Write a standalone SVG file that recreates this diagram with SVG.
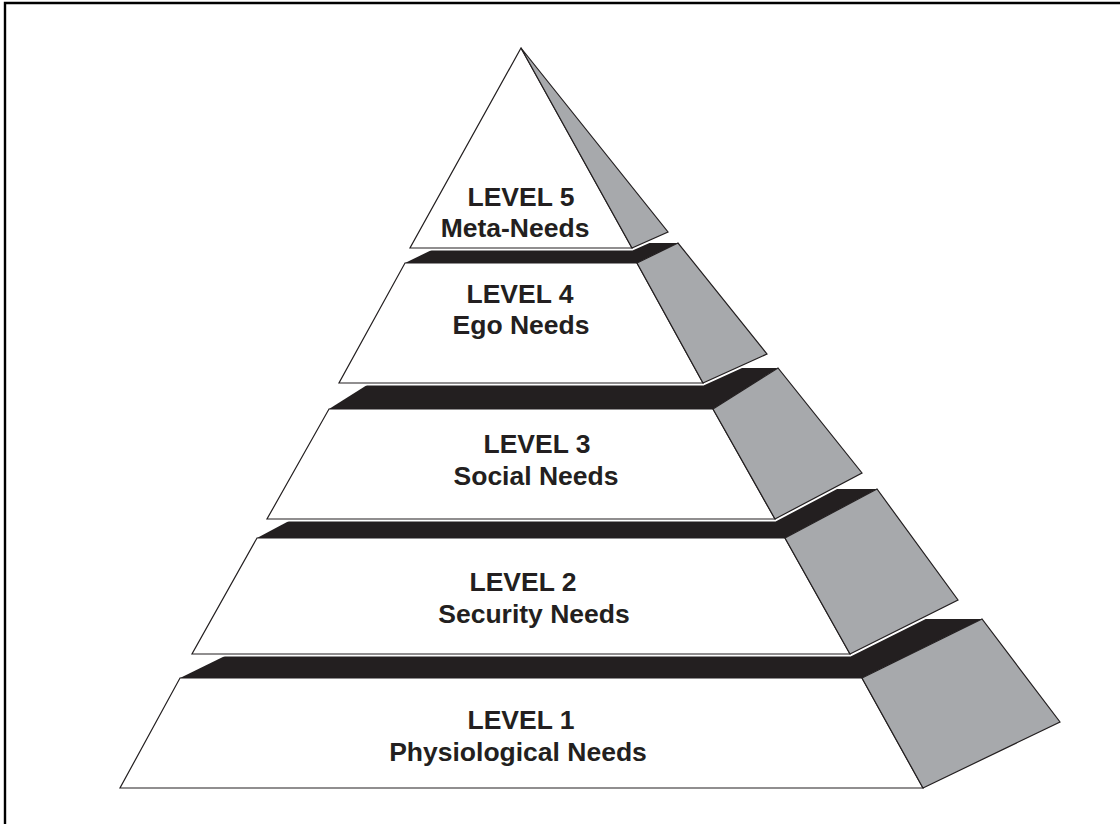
<svg xmlns="http://www.w3.org/2000/svg" width="1120" height="824" viewBox="0 0 1120 824">
  <style>
    .frame { fill: none; stroke: #000; stroke-width: 2.4; }
    .gap { fill: #fff; stroke: #fff; stroke-width: 5; stroke-linejoin: miter; }
    .top { fill: #231f20; stroke: none; }
    .front { fill: #fff; stroke: #231f20; stroke-width: 1.2; stroke-linejoin: miter; }
    .side { fill: #a7a9ac; stroke: #231f20; stroke-width: 1.2; stroke-linejoin: miter; }
    .label { font-family: "Liberation Sans", Arial, sans-serif; font-weight: bold; font-size: 26.5px; fill: #231f20; text-anchor: middle; }
  </style>

  <!-- outer frame (top and left edges) -->
  <path class="frame" d="M5,824 V3 H1120"/>

  <!-- base block -->
  <g id="level-1">
    <polygon class="gap" points="180,678 862,678 982,619 1060,722 923,788 120,788"/>
    <polygon class="top" points="180,678 862,678 982,619 300,619"/>
    <polygon class="front" points="180,678 862,678 923,788 120,788"/>
    <polygon class="side" points="862,678 982,619 1060,722 923,788"/>
    <text class="label" x="521" y="729">LEVEL 1</text>
    <text class="label" x="518" y="761">Physiological Needs</text>
  </g>

  <g id="level-2">
    <polygon class="gap" points="257,538 785,538 877,489 958,600 850,654 192,654"/>
    <polygon class="top" points="257,538 785,538 877,489 349,489"/>
    <polygon class="front" points="257,538 785,538 850,654 192,654"/>
    <polygon class="side" points="785,538 877,489 958,600 850,654"/>
    <text class="label" x="523" y="591">LEVEL 2</text>
    <text class="label" x="534" y="623">Security Needs</text>
  </g>

  <g id="level-3">
    <polygon class="gap" points="329,409 713,409 778,368 862,473 775,519 267,519"/>
    <polygon class="top" points="329,409 713,409 778,368 394,368"/>
    <polygon class="front" points="329,409 713,409 775,519 267,519"/>
    <polygon class="side" points="713,409 778,368 862,473 775,519"/>
    <text class="label" x="537" y="453">LEVEL 3</text>
    <text class="label" x="536" y="485">Social Needs</text>
  </g>

  <g id="level-4">
    <polygon class="gap" points="405,263 637,263 678,243 767,354 703,383 339,383"/>
    <polygon class="top" points="405,263 637,263 678,243 446,243"/>
    <polygon class="front" points="405,263 637,263 703,383 339,383"/>
    <polygon class="side" points="637,263 678,243 767,354 703,383"/>
    <text class="label" x="520" y="303">LEVEL 4</text>
    <text class="label" x="521" y="334">Ego Needs</text>
  </g>

  <!-- apex -->
  <g id="level-5">
    <polygon class="gap" points="521,48 668,232 632,248 410,248"/>
    <polygon class="front" points="521,48 632,248 410,248"/>
    <polygon class="side" points="521,48 668,232 632,248"/>
    <text class="label" x="521" y="206">LEVEL 5</text>
    <text class="label" x="515" y="237">Meta-Needs</text>
  </g>
</svg>
